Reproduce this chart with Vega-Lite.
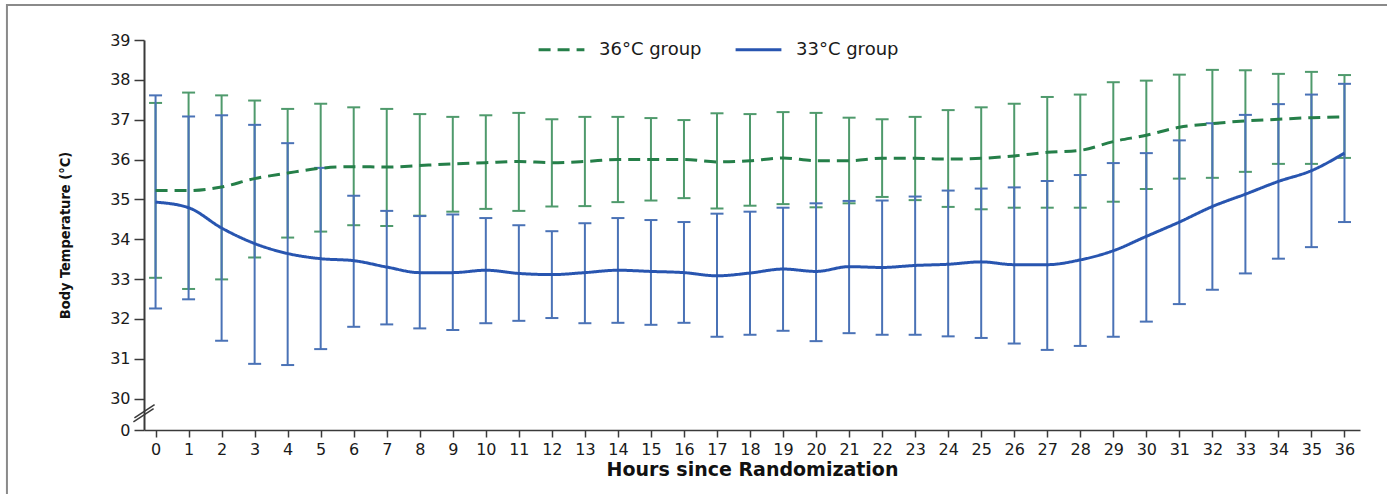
{
  "$schema": "https://vega.github.io/schema/vega-lite/v6.json",
  "width": 1216,
  "height": 390,
  "autosize": {"type": "none"},
  "padding": {"left": 144, "top": 40, "right": 27, "bottom": 64},
  "background": "white",
  "config": {
    "view": {"stroke": null},
    "axis": {
      "grid": false,
      "domainColor": "#3a3a3a",
      "tickColor": "#3a3a3a",
      "labelFont": "DejaVu Sans",
      "labelFontSize": 16,
      "labelColor": "#1a1a1a",
      "labelBound": false,
      "labelOverlap": false,
      "titleColor": "#111111"
    },
    "legend": {
      "orient": "none",
      "legendX": 393,
      "legendY": -15,
      "direction": "horizontal",
      "padding": 0,
      "symbolType": "stroke",
      "symbolSize": 2100,
      "symbolStrokeWidth": 3,
      "labelFont": "DejaVu Sans",
      "labelFontSize": 18,
      "labelColor": "#1a1a1a",
      "labelOffset": 13,
      "columnPadding": 27
    }
  },
  "datasets": {
    "temps": [
      {"hour": 0, "group": "36°C group", "mean": 35.22, "lower": 33.03, "upper": 37.42},
      {"hour": 1, "group": "36°C group", "mean": 35.22, "lower": 32.75, "upper": 37.68},
      {"hour": 2, "group": "36°C group", "mean": 35.31, "lower": 32.99, "upper": 37.61},
      {"hour": 3, "group": "36°C group", "mean": 35.52, "lower": 33.54, "upper": 37.48},
      {"hour": 4, "group": "36°C group", "mean": 35.66, "lower": 34.04, "upper": 37.27},
      {"hour": 5, "group": "36°C group", "mean": 35.78, "lower": 34.19, "upper": 37.40},
      {"hour": 6, "group": "36°C group", "mean": 35.82, "lower": 34.35, "upper": 37.31},
      {"hour": 7, "group": "36°C group", "mean": 35.81, "lower": 34.33, "upper": 37.27},
      {"hour": 8, "group": "36°C group", "mean": 35.85, "lower": 34.59, "upper": 37.14},
      {"hour": 9, "group": "36°C group", "mean": 35.89, "lower": 34.69, "upper": 37.07},
      {"hour": 10, "group": "36°C group", "mean": 35.92, "lower": 34.76, "upper": 37.11},
      {"hour": 11, "group": "36°C group", "mean": 35.95, "lower": 34.71, "upper": 37.17},
      {"hour": 12, "group": "36°C group", "mean": 35.92, "lower": 34.82, "upper": 37.01},
      {"hour": 13, "group": "36°C group", "mean": 35.95, "lower": 34.83, "upper": 37.07},
      {"hour": 14, "group": "36°C group", "mean": 36.00, "lower": 34.93, "upper": 37.07},
      {"hour": 15, "group": "36°C group", "mean": 36.00, "lower": 34.97, "upper": 37.04},
      {"hour": 16, "group": "36°C group", "mean": 36.00, "lower": 35.03, "upper": 36.99},
      {"hour": 17, "group": "36°C group", "mean": 35.94, "lower": 34.77, "upper": 37.16},
      {"hour": 18, "group": "36°C group", "mean": 35.97, "lower": 34.84, "upper": 37.14},
      {"hour": 19, "group": "36°C group", "mean": 36.04, "lower": 34.88, "upper": 37.19},
      {"hour": 20, "group": "36°C group", "mean": 35.97, "lower": 34.80, "upper": 37.17},
      {"hour": 21, "group": "36°C group", "mean": 35.97, "lower": 34.90, "upper": 37.05},
      {"hour": 22, "group": "36°C group", "mean": 36.03, "lower": 35.06, "upper": 37.01},
      {"hour": 23, "group": "36°C group", "mean": 36.03, "lower": 34.98, "upper": 37.07},
      {"hour": 24, "group": "36°C group", "mean": 36.01, "lower": 34.81, "upper": 37.24},
      {"hour": 25, "group": "36°C group", "mean": 36.03, "lower": 34.75, "upper": 37.31},
      {"hour": 26, "group": "36°C group", "mean": 36.09, "lower": 34.79, "upper": 37.40},
      {"hour": 27, "group": "36°C group", "mean": 36.18, "lower": 34.79, "upper": 37.57},
      {"hour": 28, "group": "36°C group", "mean": 36.23, "lower": 34.79, "upper": 37.63},
      {"hour": 29, "group": "36°C group", "mean": 36.45, "lower": 34.94, "upper": 37.94},
      {"hour": 30, "group": "36°C group", "mean": 36.61, "lower": 35.26, "upper": 37.98},
      {"hour": 31, "group": "36°C group", "mean": 36.81, "lower": 35.52, "upper": 38.13},
      {"hour": 32, "group": "36°C group", "mean": 36.90, "lower": 35.54, "upper": 38.25},
      {"hour": 33, "group": "36°C group", "mean": 36.97, "lower": 35.69, "upper": 38.24},
      {"hour": 34, "group": "36°C group", "mean": 37.01, "lower": 35.89, "upper": 38.15},
      {"hour": 35, "group": "36°C group", "mean": 37.05, "lower": 35.89, "upper": 38.20},
      {"hour": 36, "group": "36°C group", "mean": 37.07, "lower": 36.04, "upper": 38.12},
      {"hour": 0, "group": "33°C group", "mean": 34.93, "lower": 32.26, "upper": 37.61},
      {"hour": 1, "group": "33°C group", "mean": 34.79, "lower": 32.49, "upper": 37.08},
      {"hour": 2, "group": "33°C group", "mean": 34.28, "lower": 31.45, "upper": 37.11},
      {"hour": 3, "group": "33°C group", "mean": 33.89, "lower": 30.87, "upper": 36.87},
      {"hour": 4, "group": "33°C group", "mean": 33.64, "lower": 30.84, "upper": 36.41},
      {"hour": 5, "group": "33°C group", "mean": 33.51, "lower": 31.24, "upper": 35.79},
      {"hour": 6, "group": "33°C group", "mean": 33.46, "lower": 31.80, "upper": 35.09},
      {"hour": 7, "group": "33°C group", "mean": 33.30, "lower": 31.86, "upper": 34.71},
      {"hour": 8, "group": "33°C group", "mean": 33.16, "lower": 31.76, "upper": 34.58},
      {"hour": 9, "group": "33°C group", "mean": 33.16, "lower": 31.72, "upper": 34.62},
      {"hour": 10, "group": "33°C group", "mean": 33.22, "lower": 31.89, "upper": 34.53},
      {"hour": 11, "group": "33°C group", "mean": 33.14, "lower": 31.95, "upper": 34.35},
      {"hour": 12, "group": "33°C group", "mean": 33.11, "lower": 32.02, "upper": 34.20},
      {"hour": 13, "group": "33°C group", "mean": 33.16, "lower": 31.89, "upper": 34.40},
      {"hour": 14, "group": "33°C group", "mean": 33.22, "lower": 31.90, "upper": 34.53},
      {"hour": 15, "group": "33°C group", "mean": 33.19, "lower": 31.85, "upper": 34.48},
      {"hour": 16, "group": "33°C group", "mean": 33.16, "lower": 31.90, "upper": 34.43},
      {"hour": 17, "group": "33°C group", "mean": 33.08, "lower": 31.55, "upper": 34.64},
      {"hour": 18, "group": "33°C group", "mean": 33.15, "lower": 31.60, "upper": 34.69},
      {"hour": 19, "group": "33°C group", "mean": 33.25, "lower": 31.70, "upper": 34.79},
      {"hour": 20, "group": "33°C group", "mean": 33.19, "lower": 31.44, "upper": 34.90},
      {"hour": 21, "group": "33°C group", "mean": 33.31, "lower": 31.64, "upper": 34.96},
      {"hour": 22, "group": "33°C group", "mean": 33.29, "lower": 31.60, "upper": 34.97},
      {"hour": 23, "group": "33°C group", "mean": 33.34, "lower": 31.60, "upper": 35.07},
      {"hour": 24, "group": "33°C group", "mean": 33.37, "lower": 31.56, "upper": 35.22},
      {"hour": 25, "group": "33°C group", "mean": 33.43, "lower": 31.52, "upper": 35.27},
      {"hour": 26, "group": "33°C group", "mean": 33.36, "lower": 31.38, "upper": 35.30},
      {"hour": 27, "group": "33°C group", "mean": 33.36, "lower": 31.22, "upper": 35.46},
      {"hour": 28, "group": "33°C group", "mean": 33.48, "lower": 31.32, "upper": 35.61},
      {"hour": 29, "group": "33°C group", "mean": 33.71, "lower": 31.55, "upper": 35.91},
      {"hour": 30, "group": "33°C group", "mean": 34.07, "lower": 31.93, "upper": 36.16},
      {"hour": 31, "group": "33°C group", "mean": 34.43, "lower": 32.37, "upper": 36.48},
      {"hour": 32, "group": "33°C group", "mean": 34.82, "lower": 32.73, "upper": 36.91},
      {"hour": 33, "group": "33°C group", "mean": 35.13, "lower": 33.14, "upper": 37.12},
      {"hour": 34, "group": "33°C group", "mean": 35.45, "lower": 33.51, "upper": 37.39},
      {"hour": 35, "group": "33°C group", "mean": 35.72, "lower": 33.80, "upper": 37.63},
      {"hour": 36, "group": "33°C group", "mean": 36.16, "lower": 34.43, "upper": 37.90}
    ],
    "frame": [
      {"x": -4.5, "x2": 37.7, "y": 39.88, "y2": -66}
    ],
    "axisBreak": [
      {"x": -0.67, "x2": -0.06, "y": 7.8, "y2": 20.4},
      {"x": -0.64, "x2": -0.03, "y": 11.6, "y2": 24.2}
    ]
  },
  "layer": [
    {
      "data": {"name": "frame"},
      "mark": {"type": "rect", "filled": false, "stroke": "#8a8a8a", "strokeWidth": 2, "clip": false},
      "encoding": {
        "x": {"field": "x", "type": "quantitative"},
        "x2": {"field": "x2"},
        "y": {"field": "y", "type": "quantitative"},
        "y2": {"field": "y2"}
      }
    },
    {
      "data": {"name": "axisBreak"},
      "mark": {"type": "rule", "stroke": "#3a3a3a", "strokeWidth": 1.5},
      "encoding": {
        "x": {"field": "x", "type": "quantitative"},
        "x2": {"field": "x2"},
        "y": {"field": "y", "type": "quantitative"},
        "y2": {"field": "y2"}
      }
    },
    {
      "data": {"name": "temps"},
      "transform": [{"filter": "datum.group === '36°C group'"}],
      "layer": [
        {
          "mark": {"type": "rule", "stroke": "#4f9a6c", "strokeWidth": 2},
          "encoding": {
            "x": {"field": "hour", "type": "quantitative"},
            "y": {"field": "lower", "type": "quantitative"},
            "y2": {"field": "upper"}
          }
        },
        {
          "mark": {"type": "tick", "orient": "horizontal", "color": "#4f9a6c", "size": 13, "thickness": 2, "opacity": 1},
          "encoding": {
            "x": {"field": "hour", "type": "quantitative"},
            "y": {"field": "lower", "type": "quantitative"}
          }
        },
        {
          "mark": {"type": "tick", "orient": "horizontal", "color": "#4f9a6c", "size": 13, "thickness": 2, "opacity": 1},
          "encoding": {
            "x": {"field": "hour", "type": "quantitative"},
            "y": {"field": "upper", "type": "quantitative"}
          }
        }
      ]
    },
    {
      "data": {"name": "temps"},
      "transform": [{"filter": "datum.group === '33°C group'"}],
      "layer": [
        {
          "mark": {"type": "rule", "stroke": "#4a72b6", "strokeWidth": 2},
          "encoding": {
            "x": {"field": "hour", "type": "quantitative"},
            "y": {"field": "lower", "type": "quantitative"},
            "y2": {"field": "upper"}
          }
        },
        {
          "mark": {"type": "tick", "orient": "horizontal", "color": "#4a72b6", "size": 13, "thickness": 2, "opacity": 1},
          "encoding": {
            "x": {"field": "hour", "type": "quantitative"},
            "y": {"field": "lower", "type": "quantitative"}
          }
        },
        {
          "mark": {"type": "tick", "orient": "horizontal", "color": "#4a72b6", "size": 13, "thickness": 2, "opacity": 1},
          "encoding": {
            "x": {"field": "hour", "type": "quantitative"},
            "y": {"field": "upper", "type": "quantitative"}
          }
        }
      ]
    },
    {
      "data": {"name": "temps"},
      "mark": {"type": "line", "interpolate": "monotone", "strokeWidth": 3},
      "encoding": {
        "x": {
          "field": "hour",
          "type": "quantitative",
          "scale": {"domain": [-0.35, 36.47], "nice": false, "zero": false},
          "axis": {
            "values": [0, 1, 2, 3, 4, 5, 6, 7, 8, 9, 10, 11, 12, 13, 14, 15, 16, 17, 18, 19, 20, 21, 22, 23, 24, 25, 26, 27, 28, 29, 30, 31, 32, 33, 34, 35, 36],
            "tickCount": 100,
            "format": "d",
            "labelOverlap": false,
            "title": "Hours since Randomization",
            "titleFont": "DejaVu Sans",
            "titleFontWeight": "bold",
            "titleFontSize": 19,
            "titleY": 39,
            "titleBaseline": "middle",
            "domainWidth": 1.5,
            "tickSize": 7,
            "tickWidth": 1.5,
            "labelPadding": 4
          }
        },
        "y": {
          "field": "mean",
          "type": "quantitative",
          "scale": {"domain": [0, 30, 39], "range": [390, 358.5, 0], "nice": false, "zero": false},
          "axis": {
            "values": [0, 30, 31, 32, 33, 34, 35, 36, 37, 38, 39],
            "tickCount": 100,
            "format": "d",
            "labelOverlap": false,
            "title": "Body Temperature (°C)",
            "titleFont": "'DejaVu Sans Condensed', 'DejaVu Sans', sans-serif",
            "titleFontWeight": "bold",
            "titleFontSize": 14.5,
            "titleAngle": 270,
            "titleX": -79,
            "titleY": 195,
            "titleAlign": "center",
            "titleBaseline": "middle",
            "domainWidth": 2,
            "tickSize": 10,
            "tickWidth": 1.5,
            "labelPadding": 4
          }
        },
        "color": {
          "field": "group",
          "type": "nominal",
          "scale": {"domain": ["36°C group", "33°C group"], "range": ["#257f49", "#2855b0"]},
          "legend": {"title": null}
        },
        "strokeDash": {
          "field": "group",
          "type": "nominal",
          "scale": {"domain": ["36°C group", "33°C group"], "range": [[12, 7], [1, 0]]},
          "legend": {"title": null}
        }
      }
    }
  ]
}
